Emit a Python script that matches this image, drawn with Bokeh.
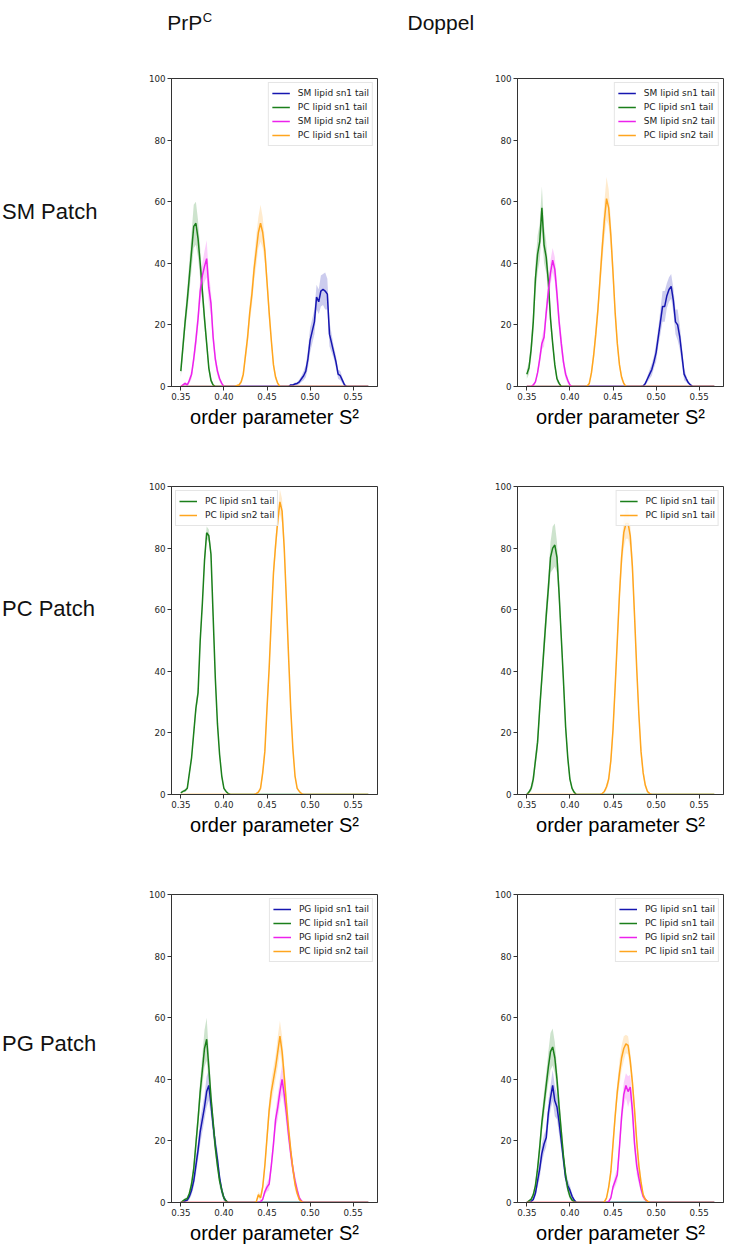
import numpy as np
from bokeh.plotting import figure
from bokeh.layouts import column, row
from bokeh.models import Range1d, FixedTicker, NumeralTickFormatter, Legend, LegendItem
from bokeh.core.properties import value
from bokeh.embed import file_html
from bokeh.resources import INLINE

# ---------------- data ----------------
BIN_START = 0.35
BIN_STEP = 0.0025
N_BINS = 88
BINS = np.round(BIN_START + BIN_STEP * np.arange(N_BINS), 4)

X_TICKS = [0.35, 0.40, 0.45, 0.50, 0.55]
Y_TICKS = [0, 20, 40, 60, 80, 100]
X_LABEL = "order parameter S\u00b2"
ROW_LABELS = ["SM Patch", "PC Patch", "PG Patch"]

# Panel A: PrPC, SM patch
A_SM1_START = 0.4775
A_SM1 = [0.5, 0.5, 0.8, 1, 1.5, 2.5, 3.5, 5, 9, 15, 18, 21, 29, 27.5, 31, 31.5, 31, 30, 17, 14, 11, 8, 4, 3.5, 2, 0.5, 0]
A_SM1_ERR = [0.3, 0.3, 0.5, 0.5, 0.8, 1, 1.5, 2, 3, 4, 4, 4, 4, 4, 5, 5, 6, 5, 4, 3, 2, 2, 1.5, 1.5, 1, 0.5, 0]
A_PC1_START = 0.35
A_PC1 = [5, 13, 21, 28, 36, 44, 52, 53, 48, 40, 31, 22, 14, 6, 2, 0.5, 0]
A_PC1_ERR = [2, 3, 3, 4, 5, 6, 7, 7, 6, 5, 4, 3, 2, 1.5, 1, 0.3, 0]
A_SM2_START = 0.3525
A_SM2 = [0.5, 1, 0.5, 2, 4, 9, 15, 22, 31, 36, 39, 41.5, 32, 27, 16, 9, 5, 2.5, 1, 0]
A_SM2_ERR = [0.3, 0.5, 0.3, 1, 1.5, 2, 3, 3, 4, 4, 5, 6, 5, 4, 3, 2, 1.5, 1, 0.5, 0]
A_PC2_START = 0.415
A_PC2 = [0.3, 0.5, 1.5, 4, 10, 16, 24, 30, 38, 44, 50, 53, 50, 44, 34, 24, 15, 7, 3, 1, 0]
A_PC2_ERR = [0.2, 0.3, 0.8, 1.5, 2, 3, 3, 4, 4, 5, 5, 6, 5, 4, 3, 3, 2, 1.5, 1, 0.5, 0]

# Panel B: Doppel, SM patch
B_SM1_START = 0.485
B_SM1 = [0.2, 1, 2.5, 4, 5.5, 8, 11, 16, 21, 26, 26, 29.5, 31.5, 32.5, 28, 21, 20, 16, 10, 4, 2.5, 1.2, 0.5, 0]
B_SM1_ERR = [0.1, 0.5, 1, 1.5, 2, 2, 3, 3, 4, 5, 5, 4, 4, 4, 4, 4, 5, 4, 3, 2, 1, 0.5, 0.3, 0]
B_PC1_START = 0.35
B_PC1 = [4, 6, 12, 21, 35, 43, 47, 58, 46, 42, 34, 22, 14, 7, 2.5, 1, 0]
B_PC1_ERR = [1.5, 2, 3, 4, 5, 6, 6, 7, 6, 5, 4, 3, 2, 1.5, 1, 0.5, 0]
B_SM2_START = 0.3575
B_SM2 = [0.5, 1.5, 4.5, 9, 14, 16, 24, 31, 37, 41, 38, 30, 21, 14, 8, 4, 2, 0.5, 0]
B_SM2_ERR = [0.3, 0.5, 1, 2, 2, 3, 3, 4, 4, 4, 4, 4, 3, 3, 2, 1.5, 1, 0.3, 0]
B_PC2_START = 0.42
B_PC2 = [0.2, 1, 4.5, 10, 17, 25, 35, 45, 54, 61, 58, 49, 37, 24, 14, 7, 3, 1, 0]
B_PC2_ERR = [0.1, 0.5, 1.5, 2, 3, 3, 4, 5, 6, 7, 6, 5, 4, 3, 2, 1.5, 1, 0.5, 0]

# Panel C: PrPC, PC patch
C_PC1_START = 0.35
C_PC1 = [0.5, 1, 1.3, 2, 7, 12, 20, 28, 33, 50, 62, 76, 85, 84, 78, 58, 38, 23, 13, 6, 2, 1, 0.3, 0]
C_PC1_ERR = [0.2, 0.3, 0.5, 0.5, 1, 1, 1.5, 2, 2, 2, 2, 2, 2, 2, 2, 2, 2, 1.5, 1, 1, 0.5, 0.3, 0.1, 0]
C_PC2_START = 0.4375
C_PC2 = [0.3, 0.8, 2, 7, 14, 28, 41, 57, 72, 81, 89, 95, 92, 80, 63, 45, 28, 15, 6, 2, 1, 0.3, 0]
C_PC2_ERR = [0.2, 0.3, 0.8, 1.5, 2, 2.5, 3, 3, 3, 3, 3, 4, 4, 3, 3, 2.5, 2, 1.5, 1, 0.5, 0.3, 0.1, 0]

# Panel D: Doppel, PC patch
D_PC1_START = 0.3525
D_PC1 = [0.8, 2, 5, 11, 17, 28, 38, 48, 58, 67, 77, 80, 81, 77, 65, 51, 37, 22, 12, 5, 2, 0.7, 0]
D_PC1_ERR = [0.3, 1, 2, 2, 3, 3, 3, 4, 4, 4, 5, 7, 7, 5, 4, 3, 3, 2, 2, 1, 0.5, 0.3, 0]
D_PC2_START = 0.4375
D_PC2 = [0.3, 1, 2.5, 5, 11, 21, 35, 50, 65, 77, 85, 88, 88, 84, 74, 58, 41, 26, 14, 7, 3, 1, 0.3, 0]
D_PC2_ERR = [0.1, 0.3, 1, 1.5, 2, 3, 3, 3, 4, 4, 5, 5, 5, 4, 4, 3, 3, 2, 2, 1.5, 1, 0.5, 0.2, 0]

# Panel E: PrPC, PG patch
E_PG1_START = 0.355
E_PG1 = [0.5, 0.8, 2, 4, 7, 12, 17, 23, 27, 31, 36, 38, 32, 25, 19, 14, 8, 4, 1.5, 0.5, 0]
E_PG1_ERR = [0.3, 0.5, 1, 1.5, 2, 3, 3, 4, 4, 4, 5, 5, 4, 4, 3, 3, 2, 1.5, 1, 0.3, 0]
E_PC1_START = 0.3525
E_PC1 = [0.5, 1, 1.3, 3, 6, 11, 19, 27, 36, 43, 50, 53, 44, 34, 26, 18, 12, 7, 4, 1.5, 0.5, 0]
E_PC1_ERR = [0.3, 0.5, 0.5, 1, 2, 2, 3, 3, 4, 5, 6, 7, 5, 4, 3, 3, 2, 2, 1.5, 1, 0.3, 0]
E_PG2_START = 0.4425
E_PG2 = [0.3, 1, 3.5, 5, 6, 12, 19, 27, 31, 36, 40, 35, 29, 22, 16, 11, 7, 4, 1.5, 0.5, 0]
E_PG2_ERR = [0.2, 0.5, 1, 1.5, 2, 2, 3, 3, 4, 4, 5, 4, 4, 3, 3, 2, 2, 1.5, 1, 0.3, 0]
E_PC2_START = 0.4375
E_PC2 = [0.2, 2.5, 1.5, 5, 12, 21, 30, 36, 40, 44, 49, 54, 49, 41, 32, 24, 17, 11, 6, 3, 1, 0.3, 0]
E_PC2_ERR = [0.1, 1, 1, 1.5, 2, 3, 3, 4, 4, 4, 5, 5, 5, 4, 4, 3, 3, 2, 2, 1, 0.5, 0.2, 0]

# Panel F: Doppel, PG patch
F_PG1_START = 0.355
F_PG1 = [0.3, 1, 3, 7, 11, 16, 19, 21, 29, 34, 38, 33, 31, 26, 20, 14, 8, 5.5, 4, 2, 0.8, 0]
F_PG1_ERR = [0.2, 0.5, 1, 2, 3, 3, 3, 3, 4, 4, 5, 5, 4, 4, 3, 3, 2, 2, 1.5, 1, 0.5, 0]
F_PC1_START = 0.3525
F_PC1 = [0.5, 1, 2.5, 5.5, 11, 18, 26, 32, 38, 44, 49, 50.5, 47, 40, 31, 23, 15, 9, 4.5, 2, 0.8, 0.3, 0]
F_PC1_ERR = [0.3, 0.5, 1, 1.5, 2, 3, 3, 4, 4, 5, 6, 6, 5, 4, 4, 3, 3, 2, 1.5, 1, 0.5, 0.2, 0]
F_PG2_START = 0.445
F_PG2 = [0.3, 1.5, 5, 7, 9, 18, 28, 35, 38, 36, 37.5, 30, 19, 12, 8, 4.5, 2, 1, 0.3, 0]
F_PG2_ERR = [0.2, 0.5, 1, 2, 2, 3, 3, 4, 4, 5, 4, 4, 3, 3, 2, 1.5, 1, 0.5, 0.2, 0]
F_PC2_START = 0.44
F_PC2 = [0.2, 1.5, 5, 10, 19, 28, 36, 42, 47, 50, 51.5, 51, 46, 39, 30, 20, 12, 6.5, 2.5, 1, 0.4, 0]
F_PC2_ERR = [0.1, 0.5, 1, 2, 3, 3, 3, 4, 4, 4, 3, 3, 3, 3, 3, 3, 2, 2, 1, 0.5, 0.2, 0]

# ---------------- styling ----------------
BLUE = "#1616b0"
GREEN = "#1b7f1b"
MAGENTA = "#ec22ec"
ORANGE = "#ffa51e"

PANELS = [
    ("top_right", [("SM lipid sn1 tail", BLUE, A_SM1_START, A_SM1, A_SM1_ERR),
                   ("PC lipid sn1 tail", GREEN, A_PC1_START, A_PC1, A_PC1_ERR),
                   ("SM lipid sn2 tail", MAGENTA, A_SM2_START, A_SM2, A_SM2_ERR),
                   ("PC lipid sn1 tail", ORANGE, A_PC2_START, A_PC2, A_PC2_ERR)]),
    ("top_right", [("SM lipid sn1 tail", BLUE, B_SM1_START, B_SM1, B_SM1_ERR),
                   ("PC lipid sn1 tail", GREEN, B_PC1_START, B_PC1, B_PC1_ERR),
                   ("SM lipid sn2 tail", MAGENTA, B_SM2_START, B_SM2, B_SM2_ERR),
                   ("PC lipid sn2 tail", ORANGE, B_PC2_START, B_PC2, B_PC2_ERR)]),
    ("top_left", [("PC lipid sn1 tail", GREEN, C_PC1_START, C_PC1, C_PC1_ERR),
                  ("PC lipid sn2 tail", ORANGE, C_PC2_START, C_PC2, C_PC2_ERR)]),
    ("top_right", [("PC lipid sn1 tail", GREEN, D_PC1_START, D_PC1, D_PC1_ERR),
                   ("PC lipid sn1 tail", ORANGE, D_PC2_START, D_PC2, D_PC2_ERR)]),
    ("top_right", [("PG lipid sn1 tail", BLUE, E_PG1_START, E_PG1, E_PG1_ERR),
                   ("PC lipid sn1 tail", GREEN, E_PC1_START, E_PC1, E_PC1_ERR),
                   ("PG lipid sn2 tail", MAGENTA, E_PG2_START, E_PG2, E_PG2_ERR),
                   ("PC lipid sn2 tail", ORANGE, E_PC2_START, E_PC2, E_PC2_ERR)]),
    ("top_right", [("PG lipid sn1 tail", BLUE, F_PG1_START, F_PG1, F_PG1_ERR),
                   ("PC lipid sn1 tail", GREEN, F_PC1_START, F_PC1, F_PC1_ERR),
                   ("PG lipid sn2 tail", MAGENTA, F_PG2_START, F_PG2, F_PG2_ERR),
                   ("PC lipid sn1 tail", ORANGE, F_PC2_START, F_PC2, F_PC2_ERR)]),
]


def full(start, vals):
    y = np.zeros(N_BINS)
    i0 = int(round((start - BIN_START) / BIN_STEP))
    y[i0:i0 + len(vals)] = vals
    return y


SANS = "'Liberation Sans', Arial, sans-serif"
TICKF = "'DejaVu Sans', sans-serif"

FRAME_W = 206
FRAME_H = 308
TOP = 11


def make_panel(idx, left, right, bottom):
    loc, series = PANELS[idx]
    p = figure(width=left + FRAME_W + right, height=TOP + FRAME_H + bottom,
               x_range=Range1d(0.3392, 0.5782), y_range=Range1d(0, 100),
               output_backend="svg", toolbar_location=None,
               min_border_left=left, min_border_right=right,
               min_border_top=TOP, min_border_bottom=bottom)
    p.xgrid.visible = False
    p.ygrid.visible = False
    p.outline_line_color = "#333333"
    p.outline_line_width = 1
    items = []
    for lab, col, start, vals, errs in series:
        y = full(start, vals)
        e = full(start, errs)
        p.varea(x=BINS, y1=np.clip(y - e, 0, None), y2=y + e, fill_color=col, fill_alpha=0.22)
    for lab, col, start, vals, errs in series:
        y = full(start, vals)
        r = p.line(x=BINS, y=y, line_color=col, line_width=1.5)
        items.append(LegendItem(label=lab, renderers=[r]))
    leg = Legend(items=items, location=loc, margin=4, padding=3, spacing=0,
                 glyph_width=18, glyph_height=14, label_height=14, label_standoff=8,
                 label_text_font=TICKF, label_text_font_size="9px", label_text_color="#222222",
                 border_line_color="#cccccc", border_line_width=1,
                 background_fill_color="white", background_fill_alpha=0.85)
    p.add_layout(leg)
    for ax in (p.xaxis[0], p.yaxis[0]):
        ax.axis_line_color = "#333333"
        ax.major_tick_line_color = "#333333"
        ax.minor_tick_line_color = None
        ax.major_tick_in = 0
        ax.major_tick_out = 4
        ax.major_label_standoff = 2
        ax.major_label_text_font = TICKF
        ax.major_label_text_font_size = "8.7px"
        ax.major_label_text_color = "#262626"
    p.xaxis[0].ticker = FixedTicker(ticks=X_TICKS)
    p.xaxis[0].formatter = NumeralTickFormatter(format="0.00")
    p.yaxis[0].ticker = FixedTicker(ticks=Y_TICKS)
    p.xaxis[0].axis_label = X_LABEL
    p.xaxis[0].axis_label_text_font = SANS
    p.xaxis[0].axis_label_text_font_size = "20px"
    p.xaxis[0].axis_label_text_font_style = "normal"
    p.xaxis[0].axis_label_text_color = "#000000"
    p.xaxis[0].axis_label_standoff = 3
    return p


def blank(width, height):
    f = figure(width=width, height=height, x_range=Range1d(0, width), y_range=Range1d(height, 0),
               output_backend="svg", toolbar_location=None, min_border=0,
               x_axis_location=None, y_axis_location=None)
    f.xgrid.visible = False
    f.ygrid.visible = False
    f.outline_line_color = None
    return f


LABEL_W = 141
HEADER_H = 67
ROW_H = [408, 408, 363]
ROW_BOTTOM = [89, 89, 44]
ROW_LABEL_Y = [176.5, 162, 176]

header = blank(728, HEADER_H)
header.text(x=[201.7], y=[21.7], text=["PrP"], text_font=value(SANS), text_font_size=value("21px"),
            text_align="right", text_baseline="alphabetic", text_color="#111111")
header.text(x=[202.2], y=[16.5], text=["C"], text_font=value(SANS), text_font_size=value("13px"),
            text_align="left", text_baseline="alphabetic", text_color="#111111")
header.text(x=[440.3], y=[21.7], text=["Doppel"], text_font=value(SANS), text_font_size=value("21px"),
            text_align="center", text_baseline="alphabetic", text_color="#111111")

rows = [header]
for r in range(3):
    lab = blank(LABEL_W, ROW_H[r])
    lab.text(x=[1.5], y=[ROW_LABEL_Y[r]], text=[ROW_LABELS[r]], text_font=value(SANS),
             text_font_size=value("22px"), text_align="left", text_baseline="middle",
             text_color="#111111")
    p1 = make_panel(2 * r, 30, 110, ROW_BOTTOM[r])
    p2 = make_panel(2 * r + 1, 30, 5, ROW_BOTTOM[r])
    rows.append(row(lab, p1, p2))

layout = column(*rows)
open("out.html", "w").write(file_html(layout, INLINE))
